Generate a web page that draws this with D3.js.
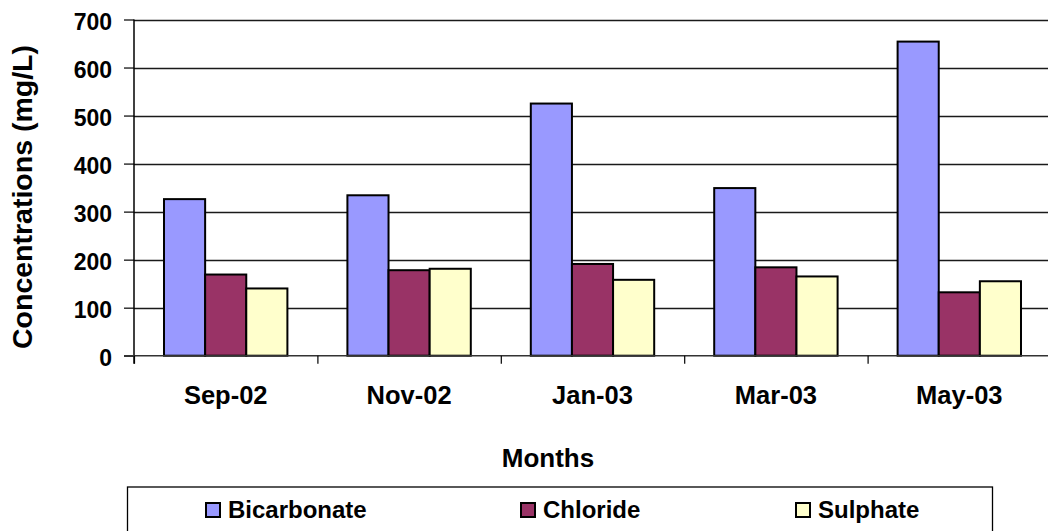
<!DOCTYPE html>
<html>
<head>
<meta charset="utf-8">
<script src="https://cdn.jsdelivr.net/npm/d3@7"></script>
<style>
  html, body { margin: 0; padding: 0; background: #fff; overflow: hidden; }
  svg { display: block; }
  text { font-family: "Liberation Sans", Arial, Helvetica, sans-serif; font-weight: bold; fill: #000; }
</style>
</head>
<body>
<svg id="chart" width="1048" height="531"></svg>
<script>
const categories = ["Sep-02", "Nov-02", "Jan-03", "Mar-03", "May-03"];
const seriesNames = ["Bicarbonate", "Chloride", "Sulphate"];
const bicarbonate = [326, 334, 525, 349, 654];
const chloride = [169, 178, 191, 184, 132];
const sulphate = [140, 181, 158, 165, 155];
const yTicks = [0, 100, 200, 300, 400, 500, 600, 700];
const colors = ["#9999FF", "#993366", "#FFFFCC"];

const seriesValues = [bicarbonate, chloride, sulphate];
const data = categories.map((c, i) => ({
  cat: c,
  vals: seriesNames.map((s, j) => ({ key: s, value: seriesValues[j][i] }))
}));

const svg = d3.select("#chart");
const plot = { left: 134, top: 19.5, right: 1051, bottom: 355.7 };

const x = d3.scaleBand().domain(categories).range([plot.left, plot.right]).padding(0);
const bw = x.bandwidth();
const xs = d3.scaleBand().domain(seriesNames).range([bw * 0.1636, bw * 0.8364]).padding(0);
const y = d3.scaleLinear().domain([0, 700]).range([plot.bottom, plot.top]);
const color = d3.scaleOrdinal().domain(seriesNames).range(colors);

// gridlines
svg.append("g")
  .selectAll("line")
  .data(yTicks.filter(d => d > 0))
  .join("line")
  .attr("x1", plot.left).attr("x2", 1048)
  .attr("y1", d => Math.round(y(d)) + 0.5).attr("y2", d => Math.round(y(d)) + 0.5)
  .attr("stroke", "#1a1a1a").attr("stroke-width", 1.3);

// bars
svg.append("g")
  .selectAll("g")
  .data(data)
  .join("g")
  .attr("transform", d => `translate(${x(d.cat)},0)`)
  .selectAll("rect")
  .data(d => d.vals)
  .join("rect")
  .attr("x", d => xs(d.key))
  .attr("y", d => y(d.value))
  .attr("width", xs.bandwidth())
  .attr("height", d => y(0) - y(d.value))
  .attr("fill", d => color(d.key))
  .attr("stroke", "#000")
  .attr("stroke-width", 2);

// y axis
const yAxis = d3.axisLeft(y).tickValues(yTicks).tickSize(10).tickPadding(12).tickFormat(d3.format("d"));
const gy = svg.append("g").attr("transform", `translate(${plot.left},0)`).call(yAxis);
gy.select(".domain").attr("stroke", "#000").attr("stroke-width", 1.5)
  .attr("d", `M0,${plot.top}V${plot.bottom + 8}`);
gy.selectAll(".tick line").attr("stroke", "#000").attr("stroke-width", 1.2);
gy.selectAll(".tick text").attr("font-size", 23).attr("dy", "0.42em")
  .style("font-family", "'Liberation Sans', Arial, sans-serif").style("font-weight", "bold");

// x axis
const xAxis = d3.axisBottom(x).tickSize(0).tickPadding(30);
const gx = svg.append("g").attr("transform", `translate(0,${plot.bottom})`).call(xAxis);
gx.select(".domain").attr("stroke", "#333").attr("stroke-width", 1.5)
  .attr("d", `M${plot.left - 10},0H1048`);
gx.selectAll(".tick text").attr("font-size", 25.5).attr("dy", "0.71em")
  .style("font-family", "'Liberation Sans', Arial, sans-serif").style("font-weight", "bold");
// category separator ticks
svg.append("g")
  .selectAll("line")
  .data(categories)
  .join("line")
  .attr("x1", d => x(d) + 0.5).attr("x2", d => x(d) + 0.5)
  .attr("y1", plot.bottom).attr("y2", plot.bottom + 8)
  .attr("stroke", "#000").attr("stroke-width", 1.2);

// axis titles
svg.append("text")
  .attr("transform", `translate(32,197) rotate(-90)`)
  .attr("text-anchor", "middle")
  .attr("font-size", 28.5)
  .text("Concentrations (mg/L)");

svg.append("text")
  .attr("x", 548).attr("y", 467)
  .attr("text-anchor", "middle")
  .attr("font-size", 26)
  .text("Months");

// legend
const legend = svg.append("g");
legend.append("rect")
  .attr("x", 127.5).attr("y", 487).attr("width", 865).attr("height", 60)
  .attr("fill", "#fff").attr("stroke", "#000").attr("stroke-width", 1.3);
const legendX = [206, 521, 796];
const items = legend.selectAll("g.item")
  .data(seriesNames)
  .join("g").attr("class", "item")
  .attr("transform", (d, i) => `translate(${legendX[i]},0)`);
items.append("rect")
  .attr("x", 0).attr("y", 503).attr("width", 14).attr("height", 14)
  .attr("fill", d => color(d)).attr("stroke", "#000").attr("stroke-width", 2);
items.append("text")
  .attr("x", 22).attr("y", 518)
  .attr("font-size", 24)
  .text(d => d);
</script>
</body>
</html>
